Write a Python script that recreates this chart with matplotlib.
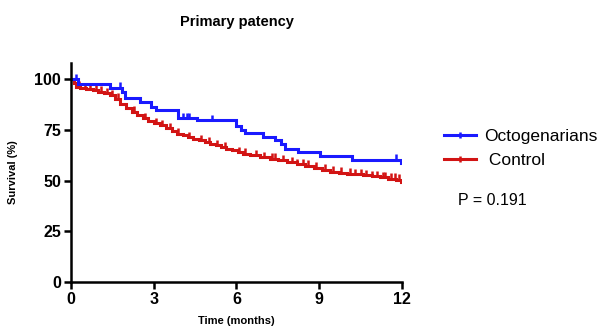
import matplotlib
matplotlib.use("Agg")
import matplotlib.pyplot as plt
import numpy as np
from matplotlib.lines import Line2D

plt.rcParams['font.family'] = ['Liberation Sans', 'DejaVu Sans']

# Octogenarians (blue) step curve: times where survival changes, and new value
octo_t = [0, 0.25, 1.41, 1.84, 1.96, 2.5, 2.92, 3.1, 3.9, 4.56, 6.0, 6.15, 6.3, 6.97, 7.4, 7.6, 7.76, 8.23, 9.03, 10.18, 11.95]
octo_s = [100, 97.5, 95.8, 93.9, 90.7, 88.9, 86.5, 84.7, 80.6, 79.7, 77.0, 75.0, 73.5, 71.5, 69.8, 68.0, 65.7, 64.3, 62.3, 60.2, 58.5]
octo_cens_t = [0.2, 1.8, 4.06, 4.2, 4.3, 5.1, 6.0, 11.8]

# Control (red) step curve
ctrl_t = [0, 0.1, 0.2, 0.35, 0.55, 0.8, 1.0, 1.2, 1.41, 1.6, 1.8, 2.0, 2.2, 2.4, 2.6, 2.8, 3.0, 3.23, 3.45, 3.65, 3.83, 4.05, 4.25, 4.43, 4.65, 4.85, 5.04, 5.25, 5.45, 5.64, 5.85, 6.05, 6.24, 6.5, 6.85, 7.2, 7.5, 7.85, 8.18, 8.5, 8.8, 9.1, 9.39, 9.7, 10.0, 10.3, 10.6, 10.9, 11.2, 11.5, 11.8, 11.95]
ctrl_s = [100, 98.0, 96.2, 95.5, 95.0, 94.7, 93.8, 93.0, 92.2, 90.3, 87.8, 85.6, 84.0, 82.3, 80.6, 79.5, 78.4, 77.3, 75.9, 74.5, 73.1, 72.3, 71.4, 70.6, 69.8, 69.0, 68.2, 67.4, 66.5, 65.7, 64.9, 64.0, 63.2, 62.4, 61.5, 60.8, 60.0, 59.1, 58.2, 57.3, 56.3, 55.3, 54.4, 53.9, 53.4, 53.0, 52.7, 52.2, 51.6, 51.0, 50.4, 49.5]
ctrl_cens_t = [0.3, 0.5, 0.7, 0.9, 1.1, 1.3, 1.5, 1.7, 2.3, 2.7, 3.1, 3.3, 3.6, 3.9, 4.3, 4.7, 5.0, 5.3, 5.6, 6.1, 6.3, 6.7, 7.0, 7.3, 7.4, 7.7, 8.0, 8.2, 8.4, 8.6, 8.9, 9.2, 9.5, 9.8, 10.1, 10.3, 10.5, 10.7, 10.9, 11.1, 11.3, 11.4, 11.6, 11.75, 11.9]

xticks = [0, 3, 6, 9, 12]
yticks = [0, 25, 50, 75, 100]
p_text = "P = 0.191"

blue = '#1a1aff'
red = '#d21414'

fig = plt.figure(figsize=(6.0, 3.27), dpi=100)
ax = fig.add_axes([0.118, 0.1376, 0.552, 0.67])

def step_value(ts, ss, t):
    idx = np.searchsorted(ts, t, side='right') - 1
    return np.array(ss)[idx]

for ts, ss, cens, c in [(ctrl_t, ctrl_s, ctrl_cens_t, red),
                        (octo_t, octo_s, octo_cens_t, blue)]:
    xs = list(ts) + [12]
    ys = list(ss) + [ss[-1]]
    ax.step(xs, ys, where='post', color=c, lw=2.2, solid_joinstyle='miter')
    cy = step_value(ts, ss, np.array(cens))
    ax.plot(cens, cy + 1.2, linestyle='none', marker='|', color=c, markersize=5, mew=1.8)

ax.set_xlim(0, 12)
ax.set_ylim(0, 108)
ax.set_xticks(xticks)
ax.set_yticks(yticks)
ax.spines['top'].set_visible(False)
ax.spines['right'].set_visible(False)
for s in ['left', 'bottom']:
    ax.spines[s].set_linewidth(1.8)
ax.tick_params(width=1.8, length=5, labelsize=11.5, pad=2)
for lbl in ax.get_xticklabels() + ax.get_yticklabels():
    lbl.set_fontweight('bold')
ax.set_xlabel('Time (months)', fontsize=8, fontweight='bold', labelpad=7)
ax.set_ylabel('Survival (%)', fontsize=8, fontweight='bold', labelpad=12)
fig.text(0.395, 0.933, 'Primary patency', fontsize=10.5, fontweight='bold', ha='center', va='center')

h1 = Line2D([0], [0], color=blue, lw=2.2, marker='|', markersize=5, mew=1.8)
h2 = Line2D([0], [0], color=red, lw=2.2, marker='|', markersize=5, mew=1.8)
leg = fig.legend([h1, h2], ['Octogenarians', ' Control'], loc='upper left',
           bbox_to_anchor=(0.74, 0.605), frameon=False, fontsize=12.5,
           handlelength=1.85, handletextpad=0.45, labelspacing=0.5, borderpad=0,
           borderaxespad=0)
fig.text(0.763, 0.388, p_text, fontsize=11.5, va='center', ha='left')

fig.savefig('out.png', dpi=100)
